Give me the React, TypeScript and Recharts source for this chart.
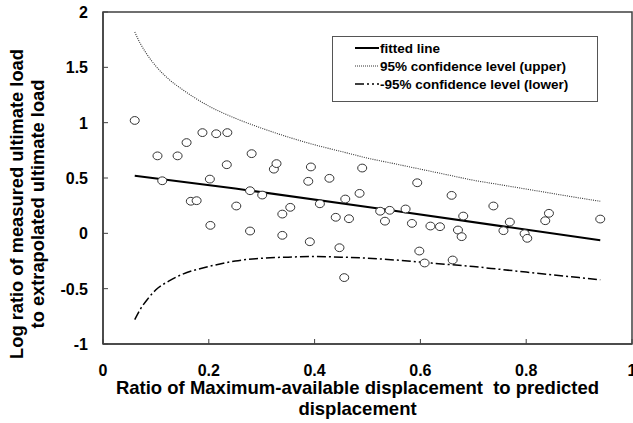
import React from 'react';
import { ComposedChart, XAxis, YAxis, Line, Scatter, ReferenceArea } from 'recharts';

const xTicks = [0, 0.2, 0.4, 0.6, 0.8, 1];
const xTickLabels = ['0', '0.2', '0.4', '0.6', '0.8', '1'];
const yTicks = [-1, -0.5, 0, 0.5, 1, 1.5, 2];
const yTickLabels = ['-1', '-0.5', '0', '0.5', '1', '1.5', '2'];

const obsX = [0.06, 0.103, 0.112, 0.141, 0.158, 0.166, 0.177, 0.188, 0.202, 0.203, 0.214, 0.234, 0.235, 0.252, 0.278, 0.278, 0.281, 0.301, 0.323, 0.328, 0.339, 0.339, 0.354, 0.388, 0.391, 0.393, 0.41, 0.428, 0.44, 0.447, 0.456, 0.458, 0.465, 0.485, 0.49, 0.524, 0.533, 0.542, 0.572, 0.584, 0.594, 0.598, 0.608, 0.619, 0.637, 0.659, 0.661, 0.671, 0.678, 0.681, 0.738, 0.757, 0.769, 0.797, 0.802, 0.836, 0.843, 0.94];
const obsY = [1.02, 0.7, 0.475, 0.7, 0.82, 0.29, 0.295, 0.91, 0.49, 0.072, 0.9, 0.62, 0.91, 0.247, 0.021, 0.385, 0.72, 0.346, 0.58, 0.63, 0.174, -0.018, 0.235, 0.47, -0.076, 0.6, 0.267, 0.497, 0.145, -0.13, -0.4, 0.31, 0.132, 0.361, 0.59, 0.2, 0.11, 0.208, 0.22, 0.09, 0.457, -0.16, -0.268, 0.066, 0.06, 0.343, -0.241, 0.03, -0.03, 0.156, 0.247, 0.024, 0.102, -0.003, -0.045, 0.114, 0.181, 0.129];

const fitX = [0.06, 0.25, 0.524, 0.94];
const fitY = [0.52, 0.405, 0.222, -0.063];

const upperX = [0.06, 0.07, 0.08, 0.09, 0.1, 0.125, 0.15, 0.175, 0.2, 0.25, 0.3, 0.35, 0.4, 0.45, 0.5, 0.55, 0.6, 0.65, 0.7, 0.75, 0.8, 0.85, 0.9, 0.94];
const upperY = [1.82, 1.72, 1.64, 1.57, 1.51, 1.39, 1.3, 1.22, 1.15, 1.04, 0.95, 0.87, 0.8, 0.74, 0.68, 0.63, 0.58, 0.53, 0.48, 0.44, 0.4, 0.36, 0.32, 0.29];

const lowerX = [0.06, 0.07, 0.085, 0.1, 0.125, 0.15, 0.2, 0.25, 0.3, 0.35, 0.4, 0.45, 0.5, 0.55, 0.6, 0.65, 0.7, 0.75, 0.8, 0.85, 0.9, 0.94];
const lowerY = [-0.78, -0.69, -0.59, -0.51, -0.43, -0.37, -0.3, -0.25, -0.225, -0.215, -0.21, -0.215, -0.225, -0.24, -0.26, -0.28, -0.3, -0.325, -0.35, -0.375, -0.4, -0.42];

const legendNames = ['fitted line', '95% confidence level (upper)', '-95% confidence level (lower)'];
const xTitle1 = 'Ratio of Maximum-available displacement  to predicted';
const xTitle2 = 'displacement';
const yTitle1 = 'Log ratio of measured ultimate load';
const yTitle2 = 'to extrapolated ultimate load';

const zip = (xs: number[], ys: number[]) => xs.map((x, i) => ({ x, y: ys[i] }));
const obsData = zip(obsX, obsY);
const fitData = zip(fitX, fitY);
const upperData = zip(upperX, upperY);
const lowerData = zip(lowerX, lowerY);

const FONT = '"Liberation Sans", Arial, sans-serif';
const AXIS = '#404040';

const XTick = (props: any) => {
  const { x, y, payload } = props;
  const i = xTicks.indexOf(payload.value);
  return (
    <g>
      <line x1={x} x2={x} y1={y} y2={y - 5} stroke={AXIS} strokeWidth={1} />
      <text x={x} y={y + 32} textAnchor="middle" fontFamily={FONT} fontWeight="bold" fontSize={16} fill="#000">
        {i >= 0 ? xTickLabels[i] : payload.value}
      </text>
    </g>
  );
};

const YTick = (props: any) => {
  const { x, y, payload } = props;
  const i = yTicks.indexOf(payload.value);
  return (
    <g>
      <line x1={x} x2={x + 5} y1={y} y2={y} stroke={AXIS} strokeWidth={1} />
      <text x={x - 15} y={y + 6} textAnchor="end" fontFamily={FONT} fontWeight="bold" fontSize={16} fill="#000">
        {i >= 0 ? yTickLabels[i] : payload.value}
      </text>
    </g>
  );
};

const XTitle = (props: any) => {
  const vb = props.viewBox || { x: 103, y: 344, width: 529, height: 79 };
  const cx = vb.x + vb.width / 2 - 10;
  return (
    <g fontFamily={FONT} fontWeight="bold" fontSize={18.5} fill="#000" style={{ whiteSpace: 'pre' }}>
      <text x={cx} y={vb.y + 50} textAnchor="middle" xmlSpace="preserve">{xTitle1}</text>
      <text x={cx} y={vb.y + 71} textAnchor="middle">{xTitle2}</text>
    </g>
  );
};

const YTitle = () => {
  const cy = 204;
  return (
    <g fontFamily={FONT} fontWeight="bold" fontSize={18.3} fill="#000">
      <text x={23} y={cy} textAnchor="middle" transform={`rotate(-90 23 ${cy})`}>{yTitle1}</text>
      <text x={44} y={cy} textAnchor="middle" transform={`rotate(-90 44 ${cy})`}>{yTitle2}</text>
    </g>
  );
};

const Circle = (props: any) => {
  const { cx, cy } = props;
  return <ellipse cx={cx} cy={cy} rx={4.5} ry={3.9} fill="#fff" stroke="#333" strokeWidth={1} />;
};

const LegendBox = () => {
  const samples = [
    <line x1={0} x2={24} y1={5} y2={5} stroke="#000" strokeWidth={2} />,
    <line x1={0} x2={24} y1={5} y2={5} stroke="#333" strokeWidth={1} strokeDasharray="1 1" />,
    <line x1={0} x2={24} y1={5} y2={5} stroke="#000" strokeWidth={1.5} strokeDasharray="9 3 2 3 2 3" />,
  ];
  return (
    <div style={{ position: 'absolute', left: 332, top: 36, border: '1px solid #555', width: 264, height: 64, boxSizing: 'content-box', background: '#fff' }}>
      {legendNames.map((n, i) => (
        <div key={n} style={{ position: 'absolute', left: 22, top: 3 + i * 18, height: 16, display: 'flex', alignItems: 'center', fontFamily: FONT, fontWeight: 'bold', fontSize: 13.5, color: '#000', whiteSpace: 'nowrap' }}>
          <svg width={25} height={10} style={{ display: 'block' }}>{samples[i]}</svg>
          <span>{n}</span>
        </div>
      ))}
    </div>
  );
};

export default function App() {
  return (
    <div style={{ position: 'absolute', left: 0, top: 0, width: 633, height: 423, background: '#fff' }}>
      <ComposedChart width={633} height={423} margin={{ top: 12, right: 1, bottom: 0, left: 0 }}>
        <XAxis
          type="number"
          dataKey="x"
          domain={[0, 1]}
          ticks={xTicks}
          allowDataOverflow
          height={79}
          axisLine={{ stroke: AXIS, strokeWidth: 1.5 }}
          tickLine={false}
          tickSize={0}
          tickMargin={0}
          tick={<XTick />}
          interval={0}
          label={<XTitle />}
        />
        <YAxis
          type="number"
          dataKey="y"
          domain={[-1, 2]}
          ticks={yTicks}
          allowDataOverflow
          width={103}
          axisLine={{ stroke: AXIS, strokeWidth: 1.5 }}
          tickLine={false}
          tickSize={0}
          tickMargin={0}
          tick={<YTick />}
          interval={0}
          label={<YTitle />}
        />
        <ReferenceArea x1={0} x2={1} y1={-1} y2={2} fill="none" stroke={AXIS} strokeWidth={1.5} ifOverflow="visible" />
        <Line data={upperData} dataKey="y" type="monotone" stroke="#333" strokeWidth={1.1} strokeDasharray="1 1.2" dot={false} isAnimationActive={false} legendType="none" />
        <Line data={lowerData} dataKey="y" type="monotone" stroke="#000" strokeWidth={1.5} strokeDasharray="9 3 2 3" dot={false} isAnimationActive={false} legendType="none" />
        <Line data={fitData} dataKey="y" type="linear" stroke="#000" strokeWidth={2} dot={false} isAnimationActive={false} legendType="none" />
        <Scatter data={obsData} dataKey="y" shape={<Circle />} isAnimationActive={false} legendType="none" />
      </ComposedChart>
      <LegendBox />
    </div>
  );
}
